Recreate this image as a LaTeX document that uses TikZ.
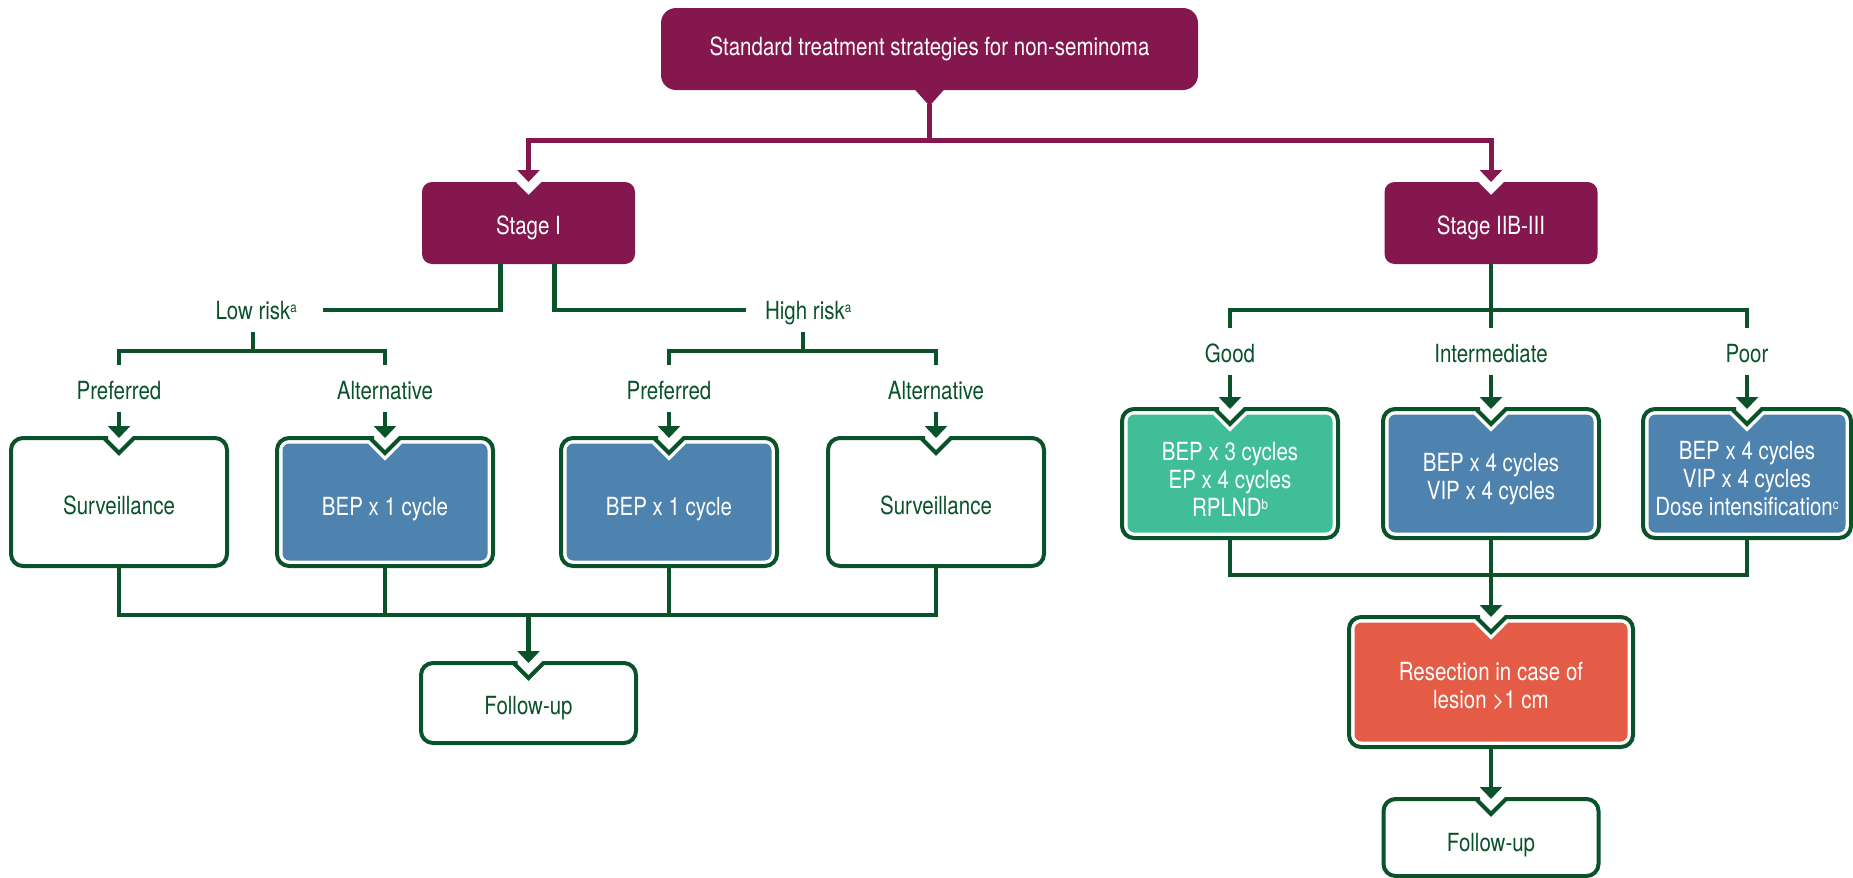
\documentclass[tikz,border=0pt]{standalone}
\usepackage{fontspec}
\setmainfont{TeX Gyre Heros}[FakeStretch=0.82]
\usetikzlibrary{calc,arrows.meta}

\definecolor{nsPlum}{RGB}{132,24,78}
\definecolor{nsGreen}{RGB}{10,82,42}
\definecolor{nsBlue}{RGB}{78,130,175}
\definecolor{nsTeal}{RGB}{64,190,152}
\definecolor{nsCoral}{RGB}{228,92,70}

% small raised footnote letter
\newcommand\fnmark[1]{\raisebox{6.5pt}{\fontsize{14}{14}\selectfont #1}}

% Rounded box outline with a V notch in the middle of its top edge.
% #1 node, #2 inset, #3 notch half width, #4 corner radius, #5 path options
\newcommand\nbshape[5]{%
  \path[#5] ($(#1.north)+({#3+0.414*#2+8},#2)$) [rounded corners=#4]
    -- ($(#1.north east)+(-#2,#2)$) -- ($(#1.south east)+(-#2,-#2)$)
    -- ($(#1.south west)+(#2,-#2)$) -- ($(#1.north west)+(#2,#2)$)
    -- ($(#1.north)+({-#3-0.414*#2-8},#2)$) [sharp corners]
    -- ($(#1.north)+({-#3-0.414*#2},#2)$)
    -- ($(#1.north)+(0,{#3+1.414*#2})$)
    -- ($(#1.north)+({#3+0.414*#2},#2)$) -- cycle;}

\begin{document}
\begin{tikzpicture}[x=1pt, y=-1pt,
  every node/.style={inner sep=0pt, outer sep=0pt, font=\fontsize{25}{28}\selectfont},
  geo/.style 2 args={minimum width=#1, minimum height=#2},
  one/.style={text height=18pt, text depth=0pt},
  lbl/.style={text=nsGreen, one},
  wtxt/.style={text=white, align=center},
  gtxt/.style={text=nsGreen, align=center},
  gline/.style={draw=nsGreen, line width=4.5pt},
  garrow/.style={gline, -{Triangle[width=22pt,length=12pt]}},
  pline/.style={draw=nsPlum, line width=5pt},
  parrow/.style={pline, -{Triangle[width=22pt,length=12pt]}},
  rim/.style={draw=nsGreen, line width=4pt, fill=white},
]
\useasboundingbox (0,0) rectangle (1853,878);

% ---------- box geometry ----------
\node[fill=nsPlum, rounded corners=15pt, geo={537}{82}, text=white] (top) at (929.5,49)
  {Standard treatment strategies for non-seminoma};
\node[geo={213}{82}] (stage1) at (528.5,223) {};
\node[geo={213}{82}] (stage2) at (1491,223) {};

\node[geo={216}{128}] (surv1) at (119,502) {};
\node[geo={216}{128}] (bep1)  at (385,502) {};
\node[geo={216}{128}] (bep2)  at (669,502) {};
\node[geo={216}{128}] (surv2) at (936,502) {};
\node[geo={215}{80}]  (fu1)   at (528.5,703) {};

\node[geo={216}{129}] (goodbox)  at (1230,473.5) {};
\node[geo={216}{129}] (interbox) at (1491,473.5) {};
\node[geo={208}{129}] (poorbox)  at (1747,473.5) {};
\node[geo={284}{130}] (resect)   at (1491,682) {};
\node[geo={215}{77}]  (fu2)      at (1491,837.5) {};

% ---------- box shapes ----------
\fill[nsPlum] ($(top.south)+(-16,-2)$) -- ($(top.south)+(0,16)$) -- ($(top.south)+(16,-2)$) -- cycle;
\nbshape{stage1}{0}{13}{10}{fill=nsPlum}
\nbshape{stage2}{0}{13}{10}{fill=nsPlum}

\nbshape{surv1}{0}{15}{12}{rim}
\nbshape{surv2}{0}{15}{12}{rim}
\nbshape{fu1}{0}{15}{12}{rim}
\nbshape{fu2}{0}{15}{12}{rim}

\nbshape{bep1}{0}{15}{12}{rim}
\nbshape{bep1}{5.5}{15}{7}{fill=nsBlue}
\nbshape{bep2}{0}{15}{12}{rim}
\nbshape{bep2}{5.5}{15}{7}{fill=nsBlue}
\nbshape{goodbox}{0}{15}{12}{rim}
\nbshape{goodbox}{5.5}{15}{7}{fill=nsTeal}
\nbshape{interbox}{0}{15}{12}{rim}
\nbshape{interbox}{5.5}{15}{7}{fill=nsBlue}
\nbshape{poorbox}{0}{15}{12}{rim}
\nbshape{poorbox}{5.5}{15}{7}{fill=nsBlue}
\nbshape{resect}{0}{15}{12}{rim}
\nbshape{resect}{5.5}{15}{7}{fill=nsCoral}

% ---------- box texts ----------
\node[wtxt, one] (stage1-t) at ($(stage1)+(0,2)$) {Stage I};
\node[wtxt, one] (stage2-t) at ($(stage2)+(0,2)$) {Stage IIB-III};
\node[gtxt, one] (surv1-t) at ($(surv1)+(0,3)$) {Surveillance};
\node[wtxt, one] (bep1-t)  at ($(bep1)+(0,4)$) {BEP x 1 cycle};
\node[wtxt, one] (bep2-t)  at ($(bep2)+(0,4)$) {BEP x 1 cycle};
\node[gtxt, one] (surv2-t) at ($(surv2)+(0,3)$) {Surveillance};
\node[gtxt, one] (fu1-t)   at ($(fu1)+(0,2)$) {Follow-up};
\node[wtxt] (good-t)  at ($(goodbox)+(0,5.5)$) {BEP x 3 cycles\\EP x 4 cycles\\RPLND\fnmark{b}};
\node[wtxt] (inter-t) at ($(interbox)+(0,5.5)$) {BEP x 4 cycles\\VIP x 4 cycles};
\node[wtxt] (poor-t)  at ($(poorbox)+(0,5.5)$) {BEP x 4 cycles\\VIP x 4 cycles\\Dose intensification\fnmark{c}};
\node[wtxt] (resect-t) at ($(resect)+(0,4.5)$) {Resection in case of\\lesion >1 cm};
\node[gtxt, one] (fu2-t) at ($(fu2)+(0,4.5)$) {Follow-up};

% ---------- branch labels ----------
\node[lbl] (lowrisk)  at (253,310) {Low risk\rlap{\fnmark{a}}};
\node[lbl] (highrisk) at (805,310) {High risk\rlap{\fnmark{a}}};
\node[lbl] (pref1) at (119,390) {Preferred};
\node[lbl] (alt1)  at (385,390) {Alternative};
\node[lbl] (pref2) at (669,390) {Preferred};
\node[lbl] (alt2)  at (936,390) {Alternative};
\node[lbl] (good)  at (1230,353) {Good};
\node[lbl] (inter) at (1491,353) {Intermediate};
\node[lbl] (poor)  at (1747,353) {Poor};

% ---------- connectors ----------
\coordinate (topbar) at ($(top.south)+(0,50)$);
\draw[pline] ($(top.south)+(0,14)$) -- (topbar);
\draw[parrow] (topbar) -| (stage1.north);
\draw[parrow] (topbar) -| (stage2.north);

\draw[gline] ($(stage1.south)+(-28,0)$) |- ($(lowrisk)+(70,0)$);
\draw[gline] ($(stage1.south)+(26,0)$) |- ($(highrisk)+(-59,0)$);

\draw[gline] ($(lowrisk)+(0,22)$) -- ($(lowrisk)+(0,41)$);
\draw[gline] ($(pref1)+(0,-25)$) |- ($(alt1)+(0,-39)$) -- ($(alt1)+(0,-25)$);
\draw[gline] ($(highrisk)+(-2,22)$) -- ($(highrisk)+(-2,41)$);
\draw[gline] ($(pref2)+(0,-25)$) |- ($(alt2)+(0,-39)$) -- ($(alt2)+(0,-25)$);

\draw[garrow] ($(pref1)+(0,22)$) -- (surv1.north);
\draw[garrow] ($(alt1)+(0,22)$) -- (bep1.north);
\draw[garrow] ($(pref2)+(0,22)$) -- (bep2.north);
\draw[garrow] ($(alt2)+(0,22)$) -- (surv2.north);

\coordinate (j1) at ($(fu1.north)+(0,-48)$);
\draw[gline] (surv1.south) |- (j1) -| (surv2.south);
\draw[gline] (bep1.south) -- (bep1.south |- j1);
\draw[gline] (bep2.south) -- (bep2.south |- j1);
\draw[garrow] (j1) -- (fu1.north);

\draw[gline] (stage2.south) -- ($(inter)+(0,-25)$);
\draw[gline] ($(good)+(0,-25)$) |- ($(poor)+(0,-43)$) -- ($(poor)+(0,-25)$);
\draw[garrow] ($(good)+(0,22)$) -- (goodbox.north);
\draw[garrow] ($(inter)+(0,22)$) -- (interbox.north);
\draw[garrow] ($(poor)+(0,22)$) -- (poorbox.north);

\coordinate (j2) at ($(resect.north)+(0,-42)$);
\draw[gline] (goodbox.south) |- (j2) -| (poorbox.south);
\draw[gline] (interbox.south) -- (j2);
\draw[garrow] (j2) -- (resect.north);
\draw[garrow] (resect.south) -- (fu2.north);
\end{tikzpicture}
\end{document}
